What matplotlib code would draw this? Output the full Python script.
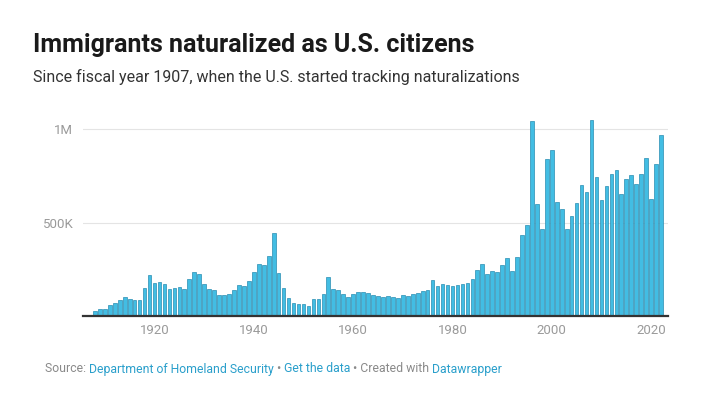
import numpy as np
import matplotlib.pyplot as plt

plt.rcParams['font.family'] = ['Roboto', 'DejaVu Sans']

# fiscal years and naturalizations (DHS yearbook)
years = list(range(1907, 2023))
naturalized = [
    7941, 25975, 38374, 39448, 56683, 70310, 83561, 104145, 91848, 87831,
    88104, 151449, 217358, 177683, 181292, 170447, 145084, 150510, 152457, 146239,
    199804, 233155, 224728, 169377, 143495, 136602, 112629, 113669, 118945, 141265,
    164976, 162078, 188813, 235260, 277294, 270364, 318933, 441979, 231402, 150062,
    93904, 70150, 66594, 66346, 54716, 88655, 92051, 117831, 209526, 145885,
    138043, 119866, 103931, 119442, 130731, 127307, 124178, 112234, 104299, 103059,
    104902, 102726, 98709, 110399, 108407, 116215, 120740, 131655, 141537, 190722,
    159873, 173535, 164150, 157938, 166317, 173688, 178948, 197023, 244717, 280623,
    227008, 242063, 233777, 270101, 308058, 240252, 314681, 434107, 488088, 1044689,
    598225, 463060, 839944, 888788, 608205, 573708, 463204, 537151, 604280, 702589,
    660477, 1046539, 743715, 619913, 694193, 757434, 779929, 653416, 730259, 753060,
    707265, 761901, 843593, 625400, 813861, 969380,
]
y_ticks = [500000, 1000000]
y_labels = ['500K', '1M']
x_ticks = [1920, 1940, 1960, 1980, 2000, 2020]

fig = plt.figure(figsize=(7.2, 4.04), dpi=100)
ax = fig.add_axes([83 / 720, 1 - 316 / 404, 585 / 720, 205 / 404])

ax.bar(years, naturalized, width=0.74, color='#42bde3', edgecolor='#2a8db2', linewidth=0.5, zorder=2)

ax.set_xlim(1905.6, 2023.4)
ax.set_ylim(0, 1000000 * 205 / 187)
ax.set_yticks(y_ticks)
ax.set_yticklabels(y_labels)
ax.set_xticks(x_ticks)
ax.set_xticklabels([str(x) for x in x_ticks])
ax.tick_params(axis='both', length=0, colors='#9a9a9a', labelsize=9.5)
ax.tick_params(axis='y', pad=7)
ax.tick_params(axis='x', pad=6)
ax.grid(axis='y', color='#e4e4e4', linewidth=0.8, zorder=0)
for s in ['top', 'right', 'left']:
    ax.spines[s].set_visible(False)
ax.spines['bottom'].set_color('#333333')
ax.spines['bottom'].set_linewidth(1.6)
ax.spines['bottom'].set_zorder(3)

fig.text(33 / 720, 1 - 45 / 404, 'Immigrants naturalized as U.S. citizens',
         fontsize=18, fontweight='bold', color='#1a1a1a', va='center')
fig.text(33 / 720, 1 - 77 / 404, 'Since fiscal year 1907, when the U.S. started tracking naturalizations',
         fontsize=11.5, color='#333333', va='center')

# footer pieces with link colours
parts = [('Source: ', '#8a8a8a'), ('Department of Homeland Security', '#2a9fcb'),
         (' \u2022 ', '#8a8a8a'), ('Get the data', '#2a9fcb'),
         (' \u2022 Created with ', '#8a8a8a'), ('Datawrapper', '#2a9fcb')]
fig.canvas.draw()
x = 45 / 720
for txt, col in parts:
    t = fig.text(x, 1 - 369 / 404, txt, fontsize=8.8, color=col, va='center')
    bb = t.get_window_extent(renderer=fig.canvas.get_renderer())
    x += bb.width / 720

fig.savefig('out.png', dpi=100)
